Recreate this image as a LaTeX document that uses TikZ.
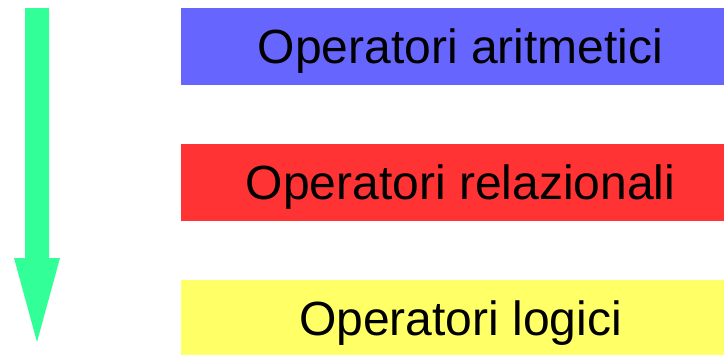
\documentclass[tikz,border=0pt]{standalone}
\usepackage{fontspec}
\setmainfont{Liberation Sans}
\definecolor{arrowgreen}{HTML}{33FF99}
\definecolor{aritblue}{HTML}{6666FF}
\definecolor{relred}{HTML}{FF3333}
\definecolor{logyellow}{HTML}{FFFF66}
\begin{document}
\begin{tikzpicture}[x=1pt,y=1pt,
  opbox/.style={rectangle, draw=none, inner sep=0pt,
    minimum width=560pt, minimum height=77pt,
    text height=34.2pt, text depth=0pt,
    font=\fontsize{48}{57}\selectfont, text=black}]
  \useasboundingbox (0,0) rectangle (724,-354);
  \begin{scope}
    \clip (0,0) rectangle (724,-354);
    % precedence boxes, highest priority on top
    \node[opbox, fill=aritblue] (arit) at (460.5,-46.5) {Operatori aritmetici};
    \node[opbox, fill=relred] (rel) at (460.5,-182.5) {Operatori relazionali};
    \node[opbox, fill=logyellow] (logi) at (460.5,-318.5) {Operatori logici};
  \end{scope}
  % downward precedence arrow
  \fill[arrowgreen] (25,-8) -- (49,-8) -- (49,-258) -- (60,-258)
    -- (37,-342) -- (14,-258) -- (25,-258) -- cycle;
\end{tikzpicture}
\end{document}
